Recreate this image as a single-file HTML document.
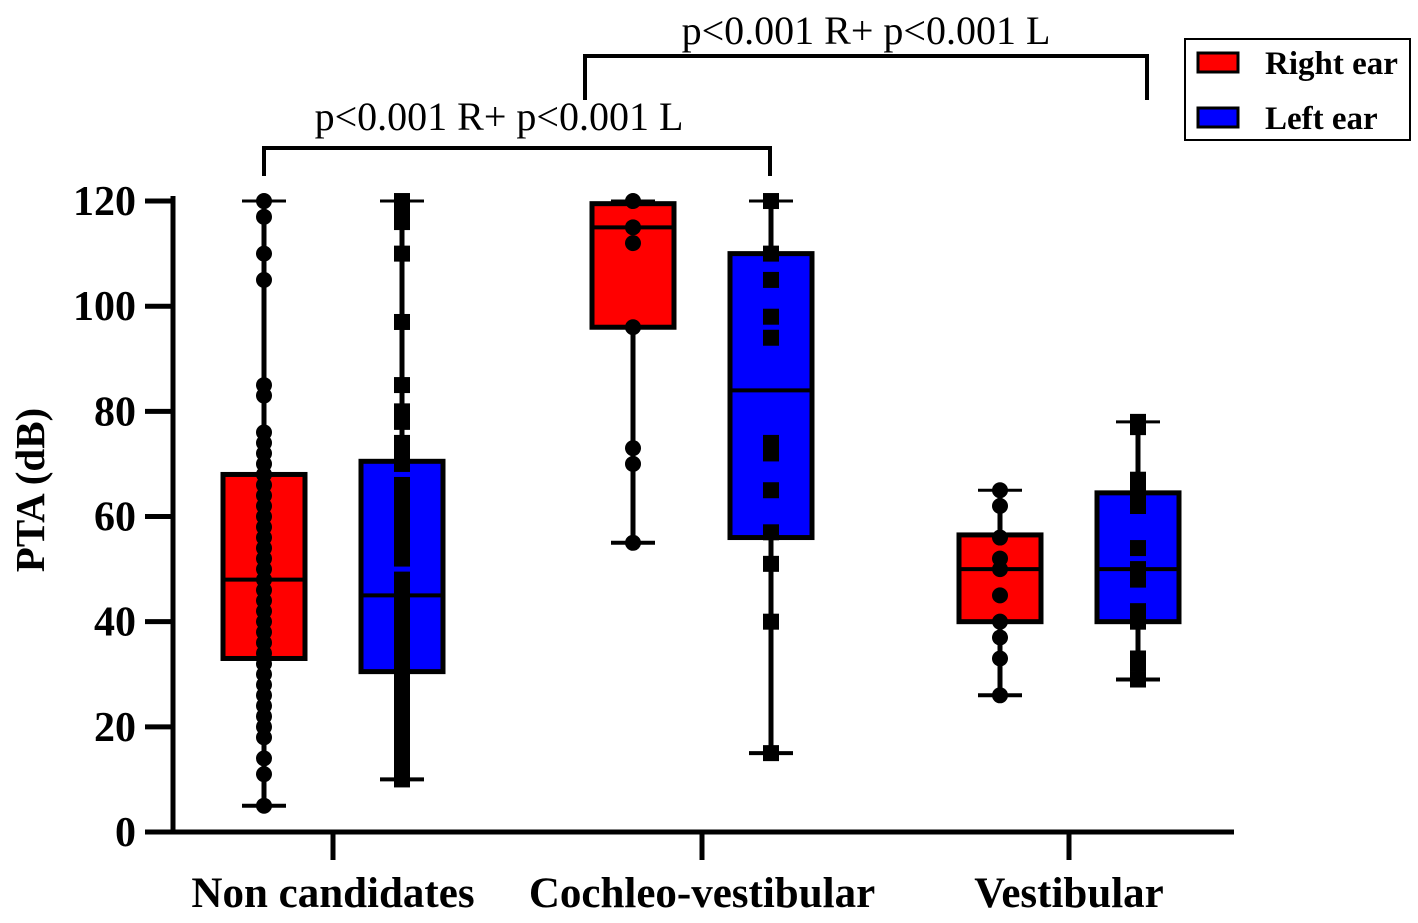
<!DOCTYPE html>
<html><head><meta charset="utf-8"><style>
html,body{margin:0;padding:0;background:#fff;width:1418px;height:923px;overflow:hidden}
text{font-family:"Liberation Serif",serif}
</style></head><body>
<svg id="chart" width="1418" height="923" viewBox="0 0 1418 923" xmlns="http://www.w3.org/2000/svg"></svg>
<script>
const categories=["Non candidates","Cochleo-vestibular","Vestibular"];
const yTicks=[0,20,40,60,80,100,120];
const rightMin=[5,55,26], rightQ1=[33,96,40], rightMed=[48,115,50], rightQ3=[68,119.5,56.5], rightMax=[120,120,65];
const leftMin=[10,15,29], leftQ1=[30.5,56,40], leftMed=[45,84,50], leftQ3=[70.5,110,64.5], leftMax=[120,120,78];
const rightPts0=[5,11,14,18,20,22,24,26,28,30,32,34,36,38,40,42,44,46,48,50,52,54,56,58,60,62,64,66,68,70,72,74,76,83,85,105,110,117,120];
const leftPts0=[10,12,14,16,18,20,22,24,26,28,30,32,34,36,38,40,42,44,46,48,52,54,56,58,60,62,64,66,70,72,74,78,80,85,97,110,116,118,120];
const rightPts1=[55,70,73,96,112,115,120];
const leftPts1=[15,40,51,57,65,72,74,94,98,105,110,120];
const rightPts2=[26,33,37,40,45,50,52,56,62,65];
const leftPts2=[29,32,33,40,42,48,50,54,62,64,67,77,78];
const rightPts=[rightPts0,rightPts1,rightPts2], leftPts=[leftPts0,leftPts1,leftPts2];

const svg=document.getElementById('chart');
const NS='http://www.w3.org/2000/svg';
function y(v){return 832-v*5.258;}
function cx(i){return [333,702,1069][i];}
function mk(tag,attrs,parent){const e=document.createElementNS(NS,tag);for(const k in attrs)e.setAttribute(k,attrs[k]);(parent||svg).appendChild(e);return e;}

let a=mk('line',{x1:173,y1:196,x2:173,y2:834,stroke:'#000','stroke-width':5});


a=mk('line',{x1:171,y1:832,x2:1234,y2:832,stroke:'#000','stroke-width':5});


yTicks.forEach(t=>{
  const l=mk('line',{x1:145,y1:y(t),x2:173,y2:y(t),stroke:'#000','stroke-width':5});
  
  
  const tx=mk('text',{x:136,y:y(t)+14,'text-anchor':'end','font-size':42,'font-weight':'bold'});
  tx.textContent=t;
  
  
});
categories.forEach((c,i)=>{
  const l=mk('line',{x1:cx(i),y1:832,x2:cx(i),y2:860,stroke:'#000','stroke-width':5});
  
  
  const tx=mk('text',{x:cx(i),y:907,'text-anchor':'middle','font-size':43,'font-weight':'bold'});
  tx.textContent=c;
  
  
});
let yt=mk('text',{x:0,y:0,'text-anchor':'middle','font-size':41,'font-weight':'bold',transform:'translate(44,490) rotate(-90)'});
yt.textContent='PTA (dB)';



function box(center,mn,q1,md,q3,mx,pts,color,square,name){
  const g=mk('g',{});
  
  
  mk('line',{x1:center,y1:y(mx),x2:center,y2:y(mn),stroke:'#000','stroke-width':5},g);
  mk('line',{x1:center-22,y1:y(mx),x2:center+22,y2:y(mx),stroke:'#000','stroke-width':3},g);
  mk('line',{x1:center-22,y1:y(mn),x2:center+22,y2:y(mn),stroke:'#000','stroke-width':4},g);
  mk('rect',{x:center-41,y:y(q3),width:82,height:y(q1)-y(q3),fill:color,stroke:'#000','stroke-width':5},g);
  mk('line',{x1:center-41,y1:y(md),x2:center+41,y2:y(md),stroke:'#000','stroke-width':4},g);
  pts.forEach(p=>{
    const m=square?mk('rect',{x:center-8,y:y(p)-8,width:16,height:16,fill:'#000'},g):mk('circle',{cx:center,cy:y(p),r:8,fill:'#000'},g);
    
    
  });
}
categories.forEach((c,i)=>{
  box(cx(i)-69,rightMin[i],rightQ1[i],rightMed[i],rightQ3[i],rightMax[i],rightPts[i],'#ff0000',false,'right-ear-box');
  box(cx(i)+69,leftMin[i],leftQ1[i],leftMed[i],leftQ3[i],leftMax[i],leftPts[i],'#0000ff',true,'left-ear-box');
});

function bracket(x1,x2,yTop,yBot,label,tx,ty,name){
  const p=mk('polyline',{points:`${x1},${yBot} ${x1},${yTop} ${x2},${yTop} ${x2},${yBot}`,fill:'none',stroke:'#000','stroke-width':4});
  
  
  const t=mk('text',{x:tx,y:ty,'text-anchor':'middle','font-size':40});
  t.textContent=label;
  
  
}
bracket(264,770,148,176,'p<0.001 R+ p<0.001 L',499,130,'significance-bracket-1');
bracket(585,1147,56,100,'p<0.001 R+ p<0.001 L',866,44,'significance-bracket-2');

const lg=mk('g',{});


mk('rect',{x:1185,y:39,width:225,height:101,fill:'#fff',stroke:'#000','stroke-width':2},lg);
let s=mk('rect',{x:1198,y:53,width:40,height:19,fill:'#ff0000',stroke:'#000','stroke-width':3},lg);


s=mk('rect',{x:1198,y:108,width:40,height:19,fill:'#0000ff',stroke:'#000','stroke-width':3},lg);


let t=mk('text',{x:1265,y:74,'font-size':33,'font-weight':'bold'},lg);
t.textContent='Right ear';


t=mk('text',{x:1265,y:129,'font-size':33,'font-weight':'bold'},lg);
t.textContent='Left ear';


</script>
</body></html>
